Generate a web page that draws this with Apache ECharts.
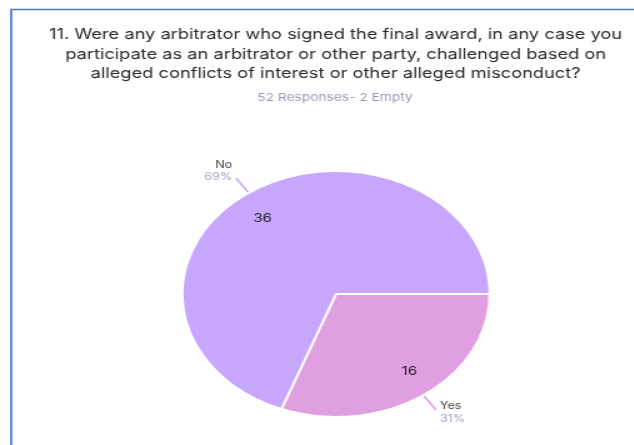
<!DOCTYPE html>
<html>
<head>
<meta charset="utf-8">
<script src="https://cdn.jsdelivr.net/npm/echarts@6/dist/echarts.min.js"></script>
<style>
  html, body { margin: 0; padding: 0; background: #ffffff; overflow: hidden; }
  #wrap { width: 634px; height: 445px; overflow: hidden; position: relative; }
  /* The card is laid out at its natural width, then widened 1.25x */
  #chart { width: 507px; height: 445px; transform: scale(1.25, 1); transform-origin: 0 0; }
</style>
</head>
<body>
<div id="wrap"><div id="chart"></div></div>
<script>
const questionLines = [
  '11. Were any arbitrator who signed the final award, in any case you',
  'participate as an arbitrator or other party, challenged based on',
  'alleged conflicts of interest or other alleged misconduct?'
];
const responseNote = '52 Responses- 2 Empty';
const categories = ['Yes', 'No'];
const counts = [16, 36];
const percents = ['31%', '69%'];
const sliceColors = ['#e09fe1', '#c6a7fd'];

const FONT = 'Inter, Roboto, sans-serif';

// caption padding per slice: the upper-left caption sits above its leader line
const captionPadding = { Yes: [5, 0, 0, 0], No: [0, 0, 14, 0] };
// small nudges for the count labels inside the slices
const countOffset = { Yes: [3, -3], No: [-3, 5] };

const sliceData = categories.map((name, i) => ({
  name: name,
  value: counts[i],
  pct: percents[i],
  itemStyle: { color: sliceColors[i] },
  labelLine: { lineStyle: { color: sliceColors[i] } },
  label: { padding: captionPadding[name] }
}));

const chart = echarts.init(document.getElementById('chart'), null, { renderer: 'canvas' });

chart.setOption({
  backgroundColor: '#ffffff',
  animation: false,
  graphic: [{
    type: 'rect',
    shape: { x: 9, y: 9.5, width: 700, height: 700 },
    style: { fill: 'none', stroke: '#4a77c9', lineWidth: 1.7 },
    silent: true
  }],
  title: [{
    text: questionLines.join('\n'),
    left: 263.5,
    top: 20,
    textAlign: 'center',
    textStyle: {
      fontFamily: FONT, fontSize: 14.6, fontWeight: 'normal',
      color: '#2a2a2a', lineHeight: 19.5
    }
  }, {
    text: responseNote,
    left: 263,
    top: 87,
    textAlign: 'center',
    textStyle: { fontFamily: FONT, fontSize: 11, fontWeight: 'normal', color: '#9d98c2' }
  }],
  series: [{
    type: 'pie',
    center: [268.8, 294],
    radius: [0, 123],
    startAngle: 0,
    clockwise: true,
    itemStyle: { borderColor: '#ffffff', borderWidth: 2 },
    label: {
      show: true,
      position: 'outside',
      distanceToLabelLine: 3,
      formatter: p => '{n|' + p.name + '}\n{p|' + p.data.pct + '}',
      rich: {
        n: { fontFamily: FONT, fontSize: 10, color: '#444444', lineHeight: 12.5 },
        p: { fontFamily: FONT, fontSize: 10, color: '#a5a1c6', lineHeight: 12.5 }
      }
    },
    labelLine: { show: true, length: 18, length2: 0, lineStyle: { width: 1.5 } },
    emphasis: { disabled: true },
    data: sliceData
  }, {
    // count labels drawn over the same slices
    type: 'pie',
    center: [268.8, 294],
    radius: [67, 123],
    startAngle: 0,
    clockwise: true,
    silent: true,
    itemStyle: { color: 'rgba(0,0,0,0)', borderWidth: 0 },
    label: {
      show: true,
      position: 'inside',
      formatter: '{c}',
      fontFamily: FONT, fontSize: 12, color: '#222222'
    },
    labelLine: { show: false },
    emphasis: { disabled: true },
    data: categories.map((name, i) => ({
      name: name,
      value: counts[i],
      label: { offset: countOffset[name] }
    }))
  }]
});
</script>
</body>
</html>
